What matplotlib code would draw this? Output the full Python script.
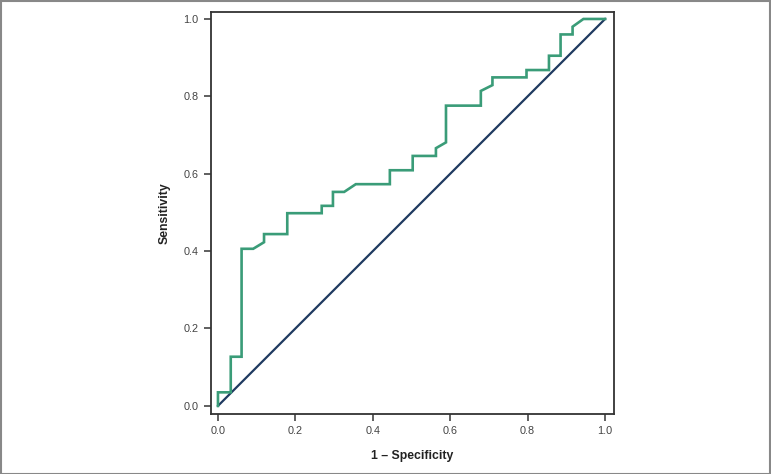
import matplotlib
matplotlib.use("Agg")
import matplotlib.pyplot as plt
from matplotlib.patches import Rectangle
from matplotlib import font_manager

# ROC curve points (1 - specificity, sensitivity)
fpr = [0.0, 0.0, 0.033, 0.033, 0.061, 0.061, 0.091, 0.119, 0.119, 0.179, 0.179,
       0.268, 0.268, 0.297, 0.297, 0.326, 0.356, 0.444, 0.444, 0.503, 0.503,
       0.563, 0.563, 0.589, 0.589, 0.679, 0.679, 0.709, 0.709, 0.797, 0.797,
       0.855, 0.855, 0.885, 0.885, 0.916, 0.916, 0.944, 1.0]
tpr = [0.0, 0.035, 0.035, 0.127, 0.127, 0.406, 0.406, 0.423, 0.444, 0.444, 0.498,
       0.498, 0.517, 0.517, 0.553, 0.553, 0.573, 0.573, 0.609, 0.609, 0.646,
       0.646, 0.666, 0.681, 0.776, 0.776, 0.814, 0.829, 0.849, 0.849, 0.868,
       0.868, 0.905, 0.905, 0.960, 0.960, 0.980, 1.0, 1.0]
ref_line = [0.0, 1.0]
ticks = [0.0, 0.2, 0.4, 0.6, 0.8, 1.0]
tick_labels = ["0.0", "0.2", "0.4", "0.6", "0.8", "1.0"]

names = {f.name for f in font_manager.fontManager.ttflist}
narrow = "Liberation Sans Narrow" in names
fam = ['Liberation Sans Narrow', 'Liberation Sans', 'DejaVu Sans'] if narrow else ['Liberation Sans', 'DejaVu Sans']
plt.rcParams['font.family'] = fam
tick_size = 8.5 if narrow else 7.8
label_size = 10.5 if narrow else 8.8

W, H = 771, 474
fig = plt.figure(figsize=(W / 100, H / 100), dpi=100)
ax = fig.add_axes([211 / W, 1 - 414 / H, (614 - 211) / W, (414 - 12) / H])

ax.plot(fpr, tpr, color="#3a9c78", lw=1.9, solid_joinstyle="miter", zorder=3)
ax.plot(ref_line, ref_line, color="#1f3a60", lw=1.6, zorder=2)

ax.set_xlim(-0.018, 1.023)
ax.set_ylim(-0.021, 1.018)
ax.set_xticks(ticks)
ax.set_xticklabels(tick_labels)
ax.set_yticks(ticks)
ax.set_yticklabels(tick_labels)
ax.tick_params(direction="out", length=5, width=1.2, colors="#444444",
               labelsize=tick_size, labelcolor="#444444", pad=4)
for s in ax.spines.values():
    s.set_color("#333333")
    s.set_linewidth(1.3)

ax.set_xlabel("1 – Specificity", fontsize=label_size, fontweight="bold", color="#222222", labelpad=10)
ax.set_ylabel("Sensitivity", fontsize=label_size, fontweight="bold", color="#222222", labelpad=9)

fig.patches.append(Rectangle((0.5 / W, 0.5 / H), (W - 1.5) / W, (H - 1.5) / H,
                             transform=fig.transFigure, fill=False,
                             edgecolor="#888888", lw=1.5))

fig.savefig("out.png", dpi=100)
